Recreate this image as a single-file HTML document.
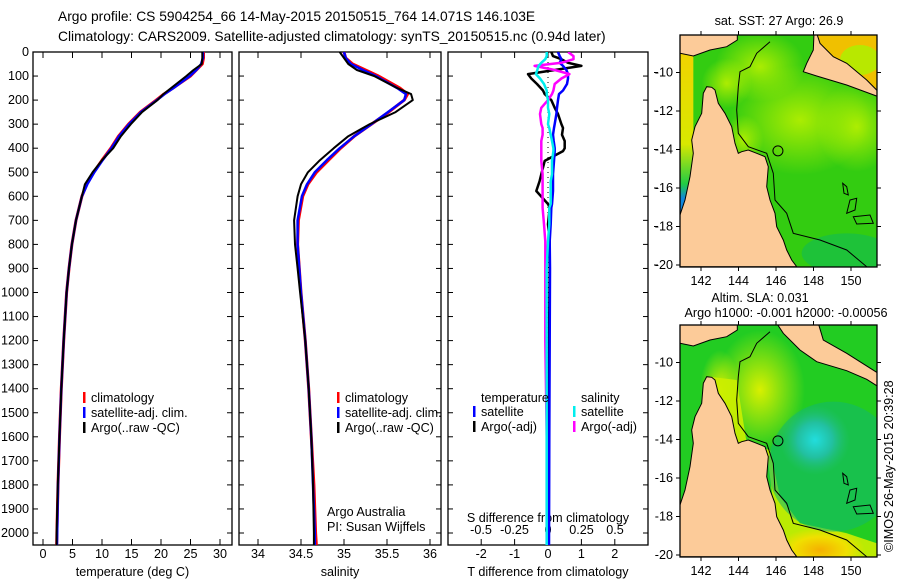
<!DOCTYPE html>
<html><head><meta charset="utf-8"><style>
html,body{margin:0;padding:0;background:#fff;}
svg{display:block;font-family:"Liberation Sans",sans-serif;font-size:12.6px;}
</style></head><body>
<svg id="fig" width="900" height="580" viewBox="0 0 900 580" xmlns="http://www.w3.org/2000/svg">
<defs>
<clipPath id="c1"><rect x="33" y="52" width="199" height="493"/></clipPath>
<clipPath id="c2"><rect x="239" y="52" width="202" height="493"/></clipPath>
<clipPath id="c3"><rect x="448" y="52" width="200" height="493"/></clipPath>
<clipPath id="cm1"><rect x="680" y="35" width="197" height="232"/></clipPath>
<clipPath id="cm2"><rect x="680" y="325" width="197" height="232"/></clipPath>
<radialGradient id="g1a" cx="0.5" cy="0.5" r="0.5"><stop offset="0" stop-color="#b8f000" stop-opacity="0.9"/><stop offset="1" stop-color="#b8f000" stop-opacity="0"/></radialGradient>
<radialGradient id="g2cy" cx="0.5" cy="0.5" r="0.5"><stop offset="0" stop-color="#22dddd"/><stop offset="0.5" stop-color="#22c0a0"/><stop offset="1" stop-color="#22c070" stop-opacity="0"/></radialGradient>
<radialGradient id="g2y" cx="0.5" cy="0.5" r="0.5"><stop offset="0" stop-color="#d8f000"/><stop offset="1" stop-color="#d8f000" stop-opacity="0"/></radialGradient>
<radialGradient id="g2o" cx="0.5" cy="0.5" r="0.5"><stop offset="0" stop-color="#f5b000"/><stop offset="0.6" stop-color="#f0e000"/><stop offset="1" stop-color="#f0e000" stop-opacity="0"/></radialGradient>
<linearGradient id="gulf1" x1="0" y1="0" x2="0" y2="1"><stop offset="0" stop-color="#f5d000"/><stop offset="0.6" stop-color="#d8e800"/><stop offset="0.82" stop-color="#22cc44"/><stop offset="0.9" stop-color="#1188dd"/><stop offset="1" stop-color="#1188dd"/></linearGradient>
</defs>
<g id="texts" style="font-size:13.8px">
<text x="58" y="21">Argo profile: CS 5904254_66 14-May-2015 20150515_764 14.071S 146.103E</text>
<text x="58" y="41">Climatology: CARS2009. Satellite-adjusted climatology: synTS_20150515.nc (0.94d later)</text>
</g>
<g id="axes"></g>
<g id="marks"></g>
<g id="maps"></g>
<text transform="translate(893,552) rotate(-90)">©IMOS 26-May-2015 20:39:28</text>
</svg>
<script>
// ---- data ----
const depths = [0,25,50,75,100,150,175,200,250,300,350,400,450,500,550,600,700,800,900,1000,1200,1400,1600,1800,2000,2060];
const tempClim = [27.2,27.2,27.0,26.0,25.0,22.0,20.5,19.2,16.5,14.5,12.8,11.5,10.0,8.6,7.4,6.6,5.6,4.9,4.4,4.0,3.5,3.1,2.8,2.55,2.35,2.3];
const tempSat  = [27.1,27.1,26.8,26.0,24.9,22.1,20.6,19.3,16.6,14.6,12.9,11.6,10.1,8.7,7.5,6.6,5.6,4.9,4.4,4.0,3.5,3.1,2.8,2.55,2.4,2.35];
const tempArgo = [27.0,27.0,26.9,25.5,24.3,21.7,20.4,19.4,16.8,14.9,13.2,11.9,10.0,8.4,7.1,6.6,5.6,4.9,4.4,4.0,3.5,3.1,2.8,2.5,2.3,2.3];
const salClim = [35.00,35.02,35.10,35.25,35.40,35.65,35.74,35.70,35.52,35.32,35.12,34.96,34.82,34.68,34.58,34.52,34.47,34.46,34.48,34.50,34.55,34.59,34.62,34.65,34.67,34.68];
const salSat  = [35.00,35.02,35.08,35.22,35.37,35.62,35.72,35.70,35.51,35.32,35.12,34.95,34.80,34.66,34.57,34.51,34.46,34.46,34.48,34.50,34.55,34.59,34.62,34.64,34.66,34.66];
const salArgo = [34.95,35.00,35.05,35.15,35.35,35.62,35.78,35.80,35.60,35.30,35.05,34.88,34.72,34.58,34.50,34.46,34.42,34.43,34.46,34.49,34.55,34.59,34.62,34.64,34.65,34.65];
const dDepths = [0,17,30,45,58,75,92,110,133,160,175,200,232,258,300,316,344,370,400,412,453,508,537,578,632,648,716,787,900,1200,1600,2060];
const tDiffSat  = [0.3,0.35,0.4,0.35,0.45,0.55,0.6,0.6,0.57,0.45,0.33,0.3,0.27,0.25,0.2,0.18,0.15,0.17,0.2,0.2,0.18,0.15,0.15,0.15,0.12,0.1,0.08,0.05,0.06,0.05,0.04,0.03];
const tDiffArgo = [0.1,0.15,0.4,0.6,1.0,0.2,-0.6,-0.5,-0.33,-0.15,-0.1,0.1,0.2,0.3,0.4,0.45,0.42,0.5,0.5,0.45,-0.1,-0.2,-0.25,-0.35,0.0,0.05,0.0,0.05,0.05,0.03,0.02,0.0];
const sDiffSat  = [-0.01,-0.01,-0.02,-0.05,-0.07,-0.08,-0.09,-0.06,-0.03,-0.01,-0.01,0.0,0.0,0.01,0.0,0.01,0.02,0.03,0.04,0.04,0.03,0.03,0.02,0.02,0.02,0.01,0.01,0.0,-0.01,-0.01,-0.01,-0.01];
const sDiffArgo = [0.15,0.19,0.19,0.1,-0.1,0.05,0.16,0.1,0.05,0.04,0.03,0.0,-0.05,-0.06,-0.05,-0.04,-0.04,-0.05,-0.05,-0.05,-0.05,-0.04,-0.04,-0.04,-0.04,-0.04,-0.03,-0.02,-0.02,-0.02,-0.01,-0.01];
const depthTicks = [0,100,200,300,400,500,600,700,800,900,1000,1100,1200,1300,1400,1500,1600,1700,1800,1900,2000];
const tempTicks = [0,5,10,15,20,25,30];
const salTicks = [34,34.5,35,35.5,36];
const tdTicks = [-2,-1,0,1,2];
const sdTicks = [-0.5,-0.25,0,0.25,0.5];
const lonTicks = [142,144,146,148,150];
const latTicks = [-10,-12,-14,-16,-18,-20];
const argoLon = 146.103, argoLat = -14.071;

// ---- scales ----
const Y = d => 52 + d*0.2405;
const XT = t => 43 + t*5.9;
const XS = s => 258 + (s-34)*86;
const XTD = t => 548 + t*33.4;
const XSD = s => 548 + s*134;
const NS='http://www.w3.org/2000/svg';
function mk(tag, attrs, parent){const e=document.createElementNS(NS,tag);for(const k in attrs)e.setAttribute(k,attrs[k]);parent.appendChild(e);return e;}
const axes=document.getElementById('axes'), marks=document.getElementById('marks'), maps=document.getElementById('maps');
function txt(x,y,s,anchor,parent,name){const t=mk('text',{x:x,y:y,'text-anchor':anchor||'start'},parent);t.textContent=s;


return t;}

const panels=[{x:33,w:199,ticks:tempTicks,f:XT,lab:'temperature (deg C)',name:'temperature-panel'},
{x:239,w:202,ticks:salTicks,f:XS,lab:'salinity',name:'salinity-panel'},
{x:448,w:200,ticks:tdTicks,f:XTD,lab:'T difference from climatology',name:'difference-panel'}];
panels.forEach((p,i)=>{
 const r=mk('rect',{x:p.x,y:52,width:p.w,height:493,fill:'none',stroke:'#000','stroke-width':1.3},axes);
 
 
 depthTicks.forEach(d=>{
  mk('line',{x1:p.x,x2:p.x+5,y1:Y(d),y2:Y(d),stroke:'#000'},axes);
  mk('line',{x1:p.x+p.w-5,x2:p.x+p.w,y1:Y(d),y2:Y(d),stroke:'#000'},axes);
  if(i===0) txt(29,Y(d)+4,String(d),'end',axes,'depth-tick-label');
 });
 p.ticks.forEach(t=>{
  mk('line',{x1:p.f(t),x2:p.f(t),y1:545,y2:539,stroke:'#000'},axes);
  mk('line',{x1:p.f(t),x2:p.f(t),y1:52,y2:58,stroke:'#000'},axes);
  txt(p.f(t),558,String(t),'middle',axes,'x-tick-label');
 });
 txt(p.x+p.w/2,576,p.lab,'middle',axes,'x-axis-title');
});
latTicks.forEach(l=>{const y=72.5+(-10-l)*19.25;mk('line',{x1:654,x2:658,y1:y,y2:y,stroke:'#000'},axes);});
sdTicks.forEach(s=>txt(XSD(s),534,String(s),'middle',axes,'s-diff-tick-label'));
txt(548,522,'S difference from climatology','middle',axes,'s-diff-axis-title');
txt(327,516,'Argo Australia','start',axes,'credit-argo-australia');
txt(327,531,'PI: Susan Wijffels','start',axes,'credit-pi');
mk('line',{x1:548,x2:548,y1:52,y2:545,stroke:'#000','stroke-dasharray':'1,4'},marks);

function line(xs,f,color,w,clip,name,ds){
 const dd=ds||depths;
 const pts=dd.map((d,i)=>f(xs[i]).toFixed(1)+','+Y(d).toFixed(1)).join(' ');
 const e=mk('polyline',{points:pts,fill:'none',stroke:color,'stroke-width':w,'clip-path':'url(#'+clip+')','stroke-linejoin':'round'},marks);
 
 
}
line(tempClim,XT,'#ff0000',3,'c1','temp-climatology-line');
line(tempSat,XT,'#0000ff',2.5,'c1','temp-satellite-line');
line(tempArgo,XT,'#000000',2,'c1','temp-argo-line');
line(salClim,XS,'#ff0000',3,'c2','sal-climatology-line');
line(salSat,XS,'#0000ff',2.5,'c2','sal-satellite-line');
line(salArgo,XS,'#000000',2,'c2','sal-argo-line');
line(tDiffArgo,XTD,'#000000',2.5,'c3','tdiff-argo-line',dDepths);
line(tDiffSat,XTD,'#0000ff',2.5,'c3','tdiff-satellite-line',dDepths);
line(sDiffArgo,XSD,'#ff00ff',2.5,'c3','sdiff-argo-line',dDepths);
line(sDiffSat,XSD,'#00eeee',2.5,'c3','sdiff-satellite-line',dDepths);

function legend(x,y,color,label,name){
 const g=mk('g',{},marks);
 
 
 if(color) mk('rect',{x:x,y:y-10,width:2.5,height:11,fill:color},g);
 txt(x+8,y,label,'start',g,name+'-label');
}
legend(83,402,'#ff0000','climatology','legend-temp-climatology');
legend(83,417,'#0000ff','satellite-adj. clim.','legend-temp-satellite');
legend(83,432,'#000000','Argo(..raw -QC)','legend-temp-argo');
legend(337,402,'#ff0000','climatology','legend-sal-climatology');
legend(337,417,'#0000ff','satellite-adj. clim.','legend-sal-satellite');
legend(337,432,'#000000','Argo(..raw -QC)','legend-sal-argo');
legend(473,402,null,'temperature','legend-temperature-header');
legend(473,416,'#0000ff','satellite','legend-tdiff-satellite');
legend(473,431,'#000000','Argo(-adj)','legend-tdiff-argo');
legend(573,402,null,'salinity','legend-salinity-header');
legend(573,416,'#00eeee','satellite','legend-sdiff-satellite');
legend(573,431,'#ff00ff','Argo(-adj)','legend-sdiff-argo');

// ---- maps ----
function drawMap(top,clip,isSST,name){
 const g=mk('g',{'clip-path':'url(#'+clip+')'},maps);
 
 
 const X=zx=>660+zx/3, Yz=zy=>top+zy/3-35;
 const P=arr=>arr.map(p=>X(p[0]).toFixed(1)+','+Yz(p[1]).toFixed(1)).join(' ');
 mk('rect',{x:680,y:top,width:197,height:232,fill:isSST?'#33cc11':'#22cc22'},g);
 if(isSST){
  mk('ellipse',{cx:X(420),cy:Yz(360),rx:70,ry:55,fill:'url(#g1a)'},g);
  mk('ellipse',{cx:X(300),cy:Yz(200),rx:45,ry:35,fill:'url(#g1a)'},g);
  mk('ellipse',{cx:X(590),cy:Yz(380),rx:40,ry:45,fill:'url(#g1a)'},g);
  mk('ellipse',{cx:X(250),cy:Yz(420),rx:20,ry:25,fill:'url(#g1a)'},g);
  mk('ellipse',{cx:X(200),cy:Yz(250),rx:25,ry:25,fill:'url(#g1a)'},g);
  mk('rect',{x:X(60),y:Yz(105),width:X(100)-X(60),height:Yz(650)-Yz(105),fill:'url(#gulf1)'},g);
  mk('polygon',{points:P([[470,100],[655,100],[655,280],[620,240],[560,190],[520,170],[480,130]]),fill:'#f0c000'},g);
  mk('ellipse',{cx:X(600),cy:Yz(180),rx:20,ry:15,fill:'#b8e800'},g);
  mk('ellipse',{cx:X(560),cy:Yz(760),rx:45,ry:20,fill:'#11bb55',opacity:0.6},g);
 } else {
  mk('ellipse',{cx:X(300),cy:Yz(300),rx:45,ry:60,fill:'url(#g2y)'},g);
  mk('ellipse',{cx:X(180),cy:Yz(300),rx:20,ry:40,fill:'url(#g2y)'},g);
  mk('polygon',{points:P([[150,260],[230,270],[260,460],[330,480],[360,620],[420,700],[560,730],[650,760],[650,800],[380,800],[340,640],[320,480],[240,470]]),fill:'#ccee00',opacity:0.9},g);
  mk('ellipse',{cx:X(480),cy:Yz(780),rx:45,ry:22,fill:'url(#g2o)'},g);
  mk('ellipse',{cx:X(520),cy:Yz(530),rx:65,ry:65,fill:'#11b870',opacity:0.55},g);
  mk('ellipse',{cx:X(465),cy:Yz(450),rx:35,ry:35,fill:'url(#g2cy)'},g);
 }
 const land='#fccb99';
 mk('polygon',{points:P([[60,800],[60,645],[75,600],[90,530],[100,460],[95,420],[105,380],[125,340],[130,280],[140,260],[155,262],[165,270],[175,310],[195,340],[215,380],[225,430],[235,460],[245,455],[265,450],[290,460],[315,470],[325,500],[320,560],[330,600],[345,640],[350,680],[370,720],[380,750],[395,780],[410,800]]),fill:land,stroke:'#000','stroke-width':1},g);
 mk('polygon',{points:P([[55,100],[60,160],[100,168],[150,150],[200,140],[232,120],[232,100]]),fill:land,stroke:'#000','stroke-width':1},g);
 if(isSST){
  mk('polygon',{points:P([[470,100],[480,130],[520,170],[560,190],[620,240],[655,275],[655,290],[560,255],[470,228],[430,215],[440,190],[460,150],[462,100]]),fill:land,stroke:'#000','stroke-width':1},g);
 } else {
  mk('polygon',{points:P([[350,100],[475,100],[490,150],[560,190],[655,250],[655,290],[620,268],[560,242],[470,215],[420,180],[370,130]]),fill:land,stroke:'#000','stroke-width':1},g);
 }
 mk('polyline',{points:P([[330,125],[290,160],[270,200],[240,215],[235,260],[230,330],[235,400],[265,440],[320,460],[340,520],[345,600],[380,640],[400,700],[480,720],[560,750],[620,800]]),fill:'none',stroke:'#000','stroke-width':1},g);
 [[[548,550],[560,560],[565,585],[552,580]],[[570,600],[590,595],[585,630],[560,640]],[[580,650],[630,645],[640,670],[590,672]]].forEach(r=>{
  mk('polygon',{points:P(r),fill:'none',stroke:'#000','stroke-width':1},g);
 });
 const ax=701+(argoLon-142)*18.75, ay=top+37.5+(-10-argoLat)*19.25;
 const c=mk('circle',{cx:ax,cy:ay,r:5,fill:'none',stroke:'#000','stroke-width':1},maps);
 
 
 const fr=mk('rect',{x:680,y:top,width:197,height:232,fill:'none',stroke:'#000','stroke-width':1.3},maps);
 
 
 lonTicks.forEach(l=>{const x=701+(l-142)*18.75;mk('line',{x1:x,x2:x,y1:top,y2:top-4,stroke:'#000'},maps);mk('line',{x1:x,x2:x,y1:top+232,y2:top+236,stroke:'#000'},maps);txt(x,top+250,String(l),'middle',maps,'map-lon-label');});
 latTicks.forEach(l=>{const y=top+37.5+(-10-l)*19.25;mk('line',{x1:676,x2:680,y1:y,y2:y,stroke:'#000'},maps);mk('line',{x1:877,x2:881,y1:y,y2:y,stroke:'#000'},maps);txt(673,y+4,String(l),'end',maps,'map-lat-label');});
}
drawMap(35,'cm1',true,'sst-map');
drawMap(325,'cm2',false,'sla-map');
txt(779,25,'sat. SST: 27 Argo: 26.9','middle',maps,'sst-map-title');
txt(760,302,'Altim. SLA: 0.031','middle',maps,'sla-map-title');
txt(786,317,'Argo h1000: -0.001 h2000: -0.00056','middle',maps,'sla-map-subtitle');
</script>
</body></html>
